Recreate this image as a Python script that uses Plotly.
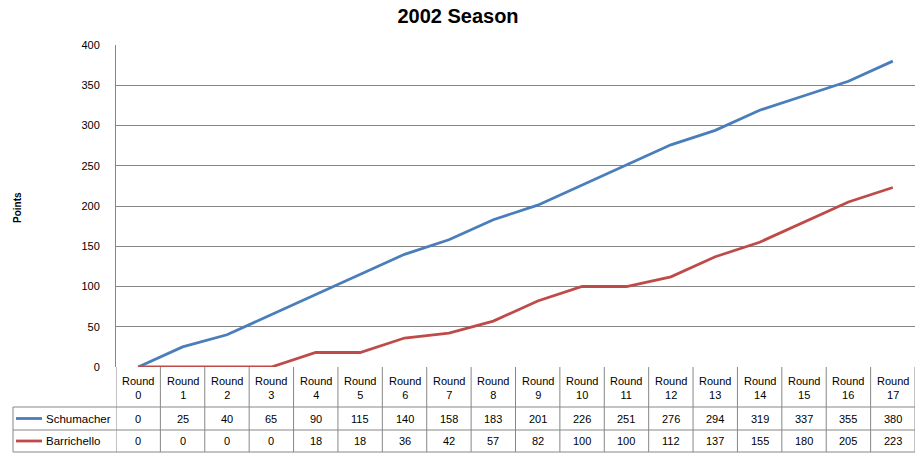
import plotly.graph_objects as go

rounds = [f"Round {i}" for i in range(18)]
round_nums = list(range(18))
schumacher = [0, 25, 40, 65, 90, 115, 140, 158, 183, 201, 226, 251, 276, 294, 319, 337, 355, 380]
barrichello = [0, 0, 0, 0, 18, 18, 36, 42, 57, 82, 100, 100, 112, 137, 155, 180, 205, 223]
series_names = ["Schumacher", "Barrichello"]
series_colors = ["#4A7EBB", "#BE4B48"]
y_ticks = [0, 50, 100, 150, 200, 250, 300, 350, 400]

W, H = 923, 457
ML, MR, MT, MB = 116, 8, 45, 90
PH = H - MT - MB
PW = W - ML - MR
FONT = "Liberation Sans"
GRID = "#878787"
TXT = "#000000"


def py(pix):
    return (H - MB - pix) / PH


def px(pix):
    return (pix - ML) / PW


fig = go.Figure()
for name, vals, col in zip(series_names, [schumacher, barrichello], series_colors):
    fig.add_trace(go.Scatter(x=round_nums, y=vals, mode="lines", name=name,
                             line=dict(color=col, width=2.8), showlegend=False, hoverinfo="skip"))

shapes = []
annotations = []

row_top = 367
row_hdr = 407
row_s = 430
row_b = 452

for i in range(19):
    shapes.append(dict(type="line", xref="x", yref="paper", x0=i - 0.5, x1=i - 0.5,
                       y0=py(row_top), y1=py(row_b), line=dict(color=GRID, width=1)))
shapes.append(dict(type="line", xref="paper", yref="paper", x0=px(13), x1=px(13),
                   y0=py(row_hdr), y1=py(row_b), line=dict(color=GRID, width=1)))
for yy in [row_hdr, row_s, row_b]:
    shapes.append(dict(type="line", xref="paper", yref="paper", x0=px(13), x1=1,
                       y0=py(yy), y1=py(yy), line=dict(color=GRID, width=1)))

for i, r in enumerate(rounds):
    word, num = r.split(" ")
    annotations.append(dict(xref="x", yref="paper", x=i, y=py((row_top + row_hdr) / 2 + 0.5),
                            text=f"{word}<br>{num}", showarrow=False,
                            font=dict(family=FONT, size=11, color=TXT),
                            xanchor="center", yanchor="middle", align="center"))

for vals, name, col, (y0, y1) in zip([schumacher, barrichello], series_names, series_colors,
                                     [(row_hdr, row_s), (row_s, row_b)]):
    yc = py((y0 + y1) / 2)
    for i, v in enumerate(vals):
        annotations.append(dict(xref="x", yref="paper", x=i, y=yc, text=str(v), showarrow=False,
                                font=dict(family=FONT, size=11, color=TXT),
                                xanchor="center", yanchor="middle"))
    shapes.append(dict(type="line", xref="paper", yref="paper", x0=px(16), x1=px(42),
                       y0=yc, y1=yc, line=dict(color=col, width=2.8)))
    annotations.append(dict(xref="paper", yref="paper", x=px(44), y=yc, text=name, showarrow=False,
                            font=dict(family=FONT, size=11.5, color=TXT),
                            xanchor="left", yanchor="middle"))

annotations.append(dict(xref="paper", yref="paper", x=px(17), y=py(208), text="<b>Points</b>",
                        showarrow=False, textangle=-90, font=dict(family=FONT, size=10, color=TXT),
                        xanchor="center", yanchor="middle"))

fig.update_layout(
    width=W, height=H, autosize=False,
    margin=dict(l=ML, r=MR, t=MT, b=MB, pad=0),
    paper_bgcolor="white", plot_bgcolor="white",
    title=dict(text="<b>2002 Season</b>", x=458 / W, xanchor="center", y=1 - 16 / H, yanchor="middle",
               font=dict(family=FONT, size=20, color=TXT)),
    xaxis=dict(range=[-0.5, 17.5], showticklabels=False, showgrid=False, zeroline=False,
               showline=False, ticks=""),
    yaxis=dict(range=[0, 400], tickvals=y_ticks, showgrid=True, gridcolor=GRID, gridwidth=1,
               zeroline=False, showline=True, linecolor=GRID, linewidth=1, ticks="",
               ticklabelstandoff=13,
               tickfont=dict(family=FONT, size=11, color=TXT)),
    shapes=shapes, annotations=annotations,
)

fig.write_html("out.html", config={"displayModeBar": False},
               post_script="document.body.style.margin='0';document.body.style.overflow='hidden';")
